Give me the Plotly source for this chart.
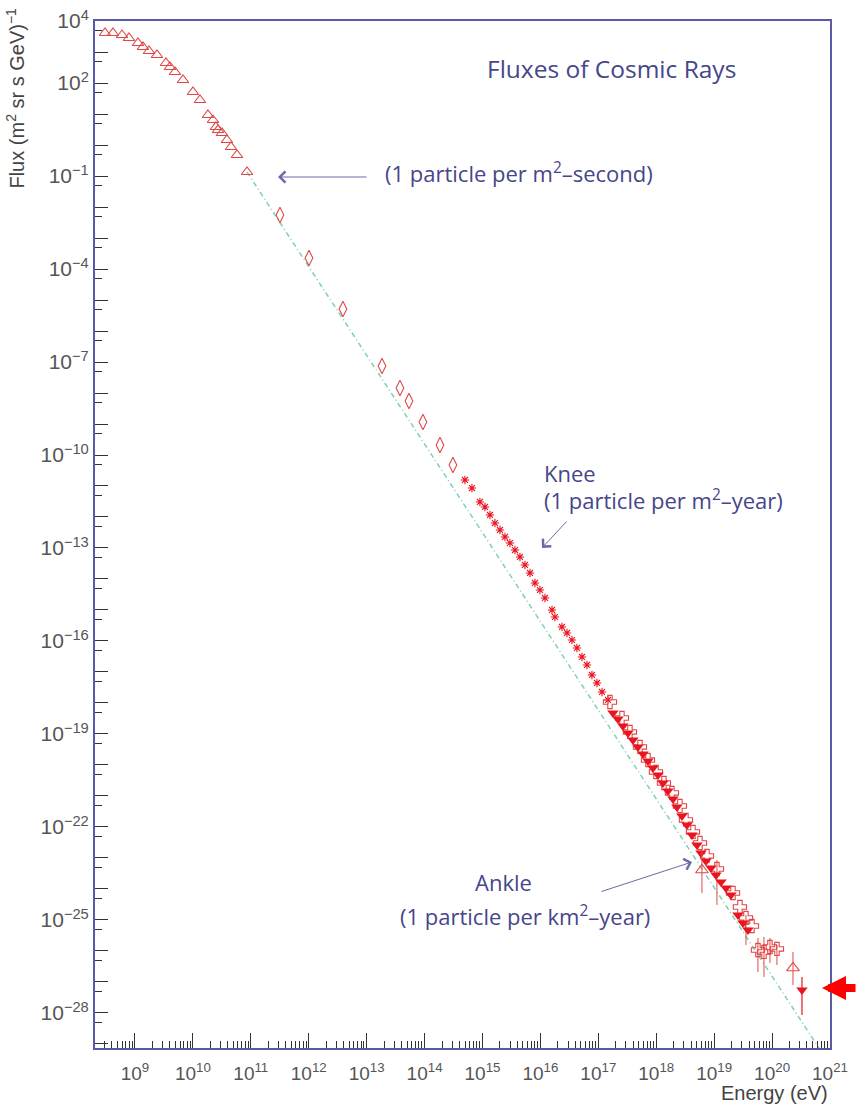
import numpy as np
import plotly.graph_objects as go

# ---------------- data (log10 of energy in eV, log10 of flux) ----------------
lowE_logE = [8.482, 8.620, 8.776, 8.896, 9.052, 9.138, 9.242, 9.380, 9.535, 9.604,
             9.691, 9.829, 10.001, 10.122, 10.260, 10.347, 10.398, 10.433, 10.502,
             10.588, 10.657, 10.761, 10.934]
lowE_logF = [3.613, 3.613, 3.548, 3.452, 3.290, 3.161, 3.032, 2.903, 2.645, 2.516,
             2.355, 2.097, 1.710, 1.452, 0.968, 0.806, 0.581, 0.484, 0.387,
             0.161, -0.065, -0.323, -0.871]

diam_logE = [11.503, 12.004, 12.591, 13.265, 13.575, 13.731, 13.972, 14.266, 14.490]
diam_logF = [-2.258, -3.645, -5.290, -7.129, -7.839, -8.258, -8.935, -9.677, -10.323]

knee_logE = [14.697, 14.818, 14.956, 15.043, 15.129, 15.215, 15.302, 15.388, 15.474,
             15.561, 15.647, 15.733, 15.820, 15.906, 15.992, 16.079, 16.200, 16.251,
             16.372, 16.459, 16.545, 16.631, 16.718, 16.804, 16.890, 16.977, 17.063, 17.167]
knee_logF = [-10.806, -11.065, -11.516, -11.677, -11.935, -12.194, -12.419, -12.645, -12.839,
             -13.065, -13.290, -13.548, -13.806, -14.129, -14.355, -14.613, -15.000, -15.226,
             -15.548, -15.742, -15.968, -16.226, -16.516, -16.774, -17.097, -17.355, -17.645, -17.903]

filled_logE = [17.253, 17.339, 17.425, 17.512, 17.598, 17.684, 17.771, 17.857, 17.943,
               18.030, 18.116, 18.202, 18.289, 18.358, 18.444, 18.530, 18.617, 18.703,
               18.772, 18.858, 18.945, 19.031, 19.117, 19.204, 19.290, 19.411, 19.497, 19.584, 20.516]
filled_logF = [-18.323, -18.516, -18.742, -18.968, -19.194, -19.419, -19.645, -19.871, -20.097,
               -20.323, -20.581, -20.839, -21.097, -21.355, -21.645, -21.935, -22.258, -22.581,
               -22.839, -23.097, -23.323, -23.548, -23.774, -23.968, -24.194, -24.839, -25.097, -25.323, -27.258]
filled_errhi = [None] * 28 + [-26.839]
filled_errlo = [None] * 28 + [-28.065]

cross_logE = [17.201, 17.408, 17.546, 17.719, 17.857, 17.995, 18.133, 18.271, 18.409, 18.513,
              18.634, 18.755, 18.876, 19.048, 19.325, 19.445, 19.549, 19.653, 19.756, 19.860,
              19.963, 20.084]
cross_logF = [-17.968, -18.484, -18.935, -19.419, -19.839, -20.226, -20.581, -20.903, -21.323, -21.774,
              -22.161, -22.516, -22.935, -23.355, -24.129, -24.581, -24.935, -25.194, -25.968, -26.032,
              -25.871, -25.935]
cross_errhi = [None] * 13 + [-23.065, None, None, -24.839, None, -25.581, -25.548, -25.581, -25.806]
cross_errlo = [None] * 13 + [-24.516, None, None, -25.806, None, -26.677, -26.839, -26.387, -26.452]

opentri_logE = [18.789, 20.361]
opentri_logF = [-23.387, -26.548]
opentri_errhi = [-22.742, -26.032]
opentri_errlo = [-24.129, -27.097]

fit_logE = [10.934, 20.85]
fit_logF = [-0.871, -29.25]

x_tick_exp = list(range(9, 22))
y_tick_exp = list(range(-29, 5))
y_label_exp = [4, 2, -1, -4, -7, -10, -13, -16, -19, -22, -25, -28]


def pw(a):
    return [None if v is None else 10.0 ** v for v in a]


def errs(logF, hi, lo):
    plus, minus = [], []
    for f, h, l in zip(logF, hi, lo):
        if h is None:
            plus.append(0.0)
            minus.append(0.0)
        else:
            plus.append(10.0 ** h - 10.0 ** f)
            minus.append(10.0 ** f - 10.0 ** l)
    return plus, minus


def sup(k):
    return "10<sup>%s</sup>" % (str(k).replace("-", "\u2212"))


RED = "#e8141e"
RED_OPEN = "#e04848"
TXT = "#46468a"

fig = go.Figure()

fig.add_trace(go.Scatter(x=pw(fit_logE), y=pw(fit_logF), mode="lines",
                         line=dict(color="#7fcfb2", width=1.5, dash="5px,3px,1px,3px"),
                         hoverinfo="skip", showlegend=False))

fig.add_trace(go.Scatter(x=pw(lowE_logE), y=pw(lowE_logF), mode="markers",
                         marker=dict(symbol="triangle-up-open", size=10,
                                     color=RED_OPEN, line=dict(width=1.1, color=RED_OPEN)),
                         showlegend=False))

fig.add_trace(go.Scatter(x=pw(diam_logE), y=pw(diam_logF), mode="markers",
                         marker=dict(symbol="diamond-tall-open", size=11,
                                     color=RED_OPEN, line=dict(width=1.1, color=RED_OPEN)),
                         showlegend=False))

fig.add_trace(go.Scatter(x=pw(knee_logE), y=pw(knee_logF), mode="markers",
                         marker=dict(symbol="asterisk-open", size=7,
                                     color=RED, line=dict(width=1.1, color=RED)),
                         showlegend=False))

cp, cm = errs(cross_logF, cross_errhi, cross_errlo)
fig.add_trace(go.Scatter(x=pw(cross_logE), y=pw(cross_logF), mode="markers",
                         marker=dict(symbol="cross-open", size=11,
                                     color=RED_OPEN, line=dict(width=1.1, color=RED_OPEN)),
                         error_y=dict(type="data", symmetric=False, array=cp, arrayminus=cm,
                                      color=RED_OPEN, thickness=1, width=0),
                         showlegend=False))

fp, fm = errs(filled_logF, filled_errhi, filled_errlo)
fig.add_trace(go.Scatter(x=pw(filled_logE), y=pw(filled_logF), mode="markers",
                         marker=dict(symbol="triangle-down", size=10, color=RED,
                                     line=dict(width=0)),
                         error_y=dict(type="data", symmetric=False, array=fp, arrayminus=fm,
                                      color=RED, thickness=1.2, width=0),
                         showlegend=False))

tp, tm = errs(opentri_logF, opentri_errhi, opentri_errlo)
fig.add_trace(go.Scatter(x=pw(opentri_logE), y=pw(opentri_logF), mode="markers",
                         marker=dict(symbol="triangle-up-open", size=11,
                                     color=RED_OPEN, line=dict(width=1.1, color=RED_OPEN)),
                         error_y=dict(type="data", symmetric=False, array=tp, arrayminus=tm,
                                      color=RED_OPEN, thickness=1, width=0),
                         showlegend=False))

x_minor = [m * 10.0 ** k for k in range(8, 21) for m in range(2, 10)]
y_minor = [5 * 10.0 ** (k - 1) for k in range(-28, 5)]

TF = "Liberation Sans, Arial, sans-serif"
fig.update_xaxes(type="log", range=[8.31, 21.0], automargin=False,
                 tickvals=[10.0 ** k for k in x_tick_exp],
                 ticktext=[sup(k) for k in x_tick_exp],
                 ticks="inside", ticklen=15, tickwidth=1.2, tickcolor="#333333",
                 ticklabelstandoff=7, ticklabeloverflow="allow",
                 minor=dict(tickvals=x_minor, ticks="inside", ticklen=7,
                            tickwidth=1, tickcolor="#333333"),
                 showline=True, linecolor="#5a5aa8", linewidth=2, mirror=True,
                 showgrid=False, zeroline=False,
                 tickfont=dict(family=TF, size=19, color="#555555"))

fig.update_yaxes(type="log", range=[-29.13, 4.0005], automargin=False,
                 tickvals=[10.0 ** k for k in y_tick_exp],
                 ticktext=[(sup(k) if k in y_label_exp else "") for k in y_tick_exp],
                 ticks="inside", ticklen=13, tickwidth=1.2, tickcolor="#333333",
                 ticklabeloverflow="allow",
                 minor=dict(tickvals=y_minor, ticks="inside", ticklen=7,
                            tickwidth=1, tickcolor="#333333"),
                 showline=True, linecolor="#5a5aa8", linewidth=2, mirror=True,
                 showgrid=False, zeroline=False,
                 tickfont=dict(family=TF, size=21, color="#555555"))

AF = "Open Sans, Lato, sans-serif"
AS = 22
ann = []
ann.append(dict(xref="paper", yref="paper", x=0.5306, y=0.9542, xanchor="left", yanchor="middle",
                text="Fluxes of Cosmic Rays", showarrow=False,
                font=dict(family=AF, size=24.5, color=TXT)))
ann.append(dict(xref="paper", yref="paper", x=0.3918, y=0.852, xanchor="left", yanchor="middle",
                text="(1 particle per m<sup>2</sup>\u2013second)", showarrow=False,
                font=dict(family=AF, size=AS, color=TXT)))
ann.append(dict(xref="paper", yref="paper", x=0.6082, y=0.5599, xanchor="left", yanchor="middle",
                text="Knee", showarrow=False, font=dict(family=AF, size=AS, color=TXT)))
ann.append(dict(xref="paper", yref="paper", x=0.6082, y=0.5336, xanchor="left", yanchor="middle",
                text="(1 particle per m<sup>2</sup>\u2013year)", showarrow=False,
                font=dict(family=AF, size=AS, color=TXT)))
ann.append(dict(xref="paper", yref="paper", x=0.5143, y=0.1616, xanchor="left", yanchor="middle",
                text="Ankle", showarrow=False, font=dict(family=AF, size=AS, color=TXT)))
ann.append(dict(xref="paper", yref="paper", x=0.4122, y=0.1295, xanchor="left", yanchor="middle",
                text="(1 particle per km<sup>2</sup>\u2013year)", showarrow=False,
                font=dict(family=AF, size=AS, color=TXT)))
# arrows
for (x, y, ax, ay) in [(0.2490, 0.8481, 90, 0), (0.6082, 0.4869, 26, -28), (0.8122, 0.1811, -92, 30)]:
    ann.append(dict(xref="paper", yref="paper", x=x, y=y, ax=ax, ay=ay, text="",
                    showarrow=True, arrowhead=4, arrowsize=2.2, arrowwidth=1,
                    arrowcolor="#6a6aa8"))
# red marker arrow
ann.append(dict(xref="paper", yref="paper", x=0.9891, y=0.0584, ax=40, ay=0, text="",
                showarrow=True, arrowhead=2, arrowsize=0.6, arrowwidth=8, arrowcolor="#ff0000"))
# axis titles
ann.append(dict(xref="paper", yref="paper", x=1.0, y=-0.0438, xanchor="right", yanchor="middle",
                text="Energy (eV)", showarrow=False,
                font=dict(family=TF, size=20, color="#444444")))
ann.append(dict(xref="paper", yref="paper", x=-0.1088, y=1.0146, xanchor="center", yanchor="top",
                textangle=-90, text="Flux (m<sup>2</sup> sr s GeV)<sup>\u22121</sup>", showarrow=False,
                font=dict(family=TF, size=20, color="#444444")))

fig.update_layout(width=857, height=1108, margin=dict(l=95, r=27, t=21, b=60, autoexpand=False),
                  paper_bgcolor="white", plot_bgcolor="white", annotations=ann,
                  showlegend=False)

fig.write_html("out.html", config={"displayModeBar": False},
               post_script="document.body.style.margin='0px';"
                           "document.body.style.padding='0px';"
                           "document.body.style.overflow='hidden';")
